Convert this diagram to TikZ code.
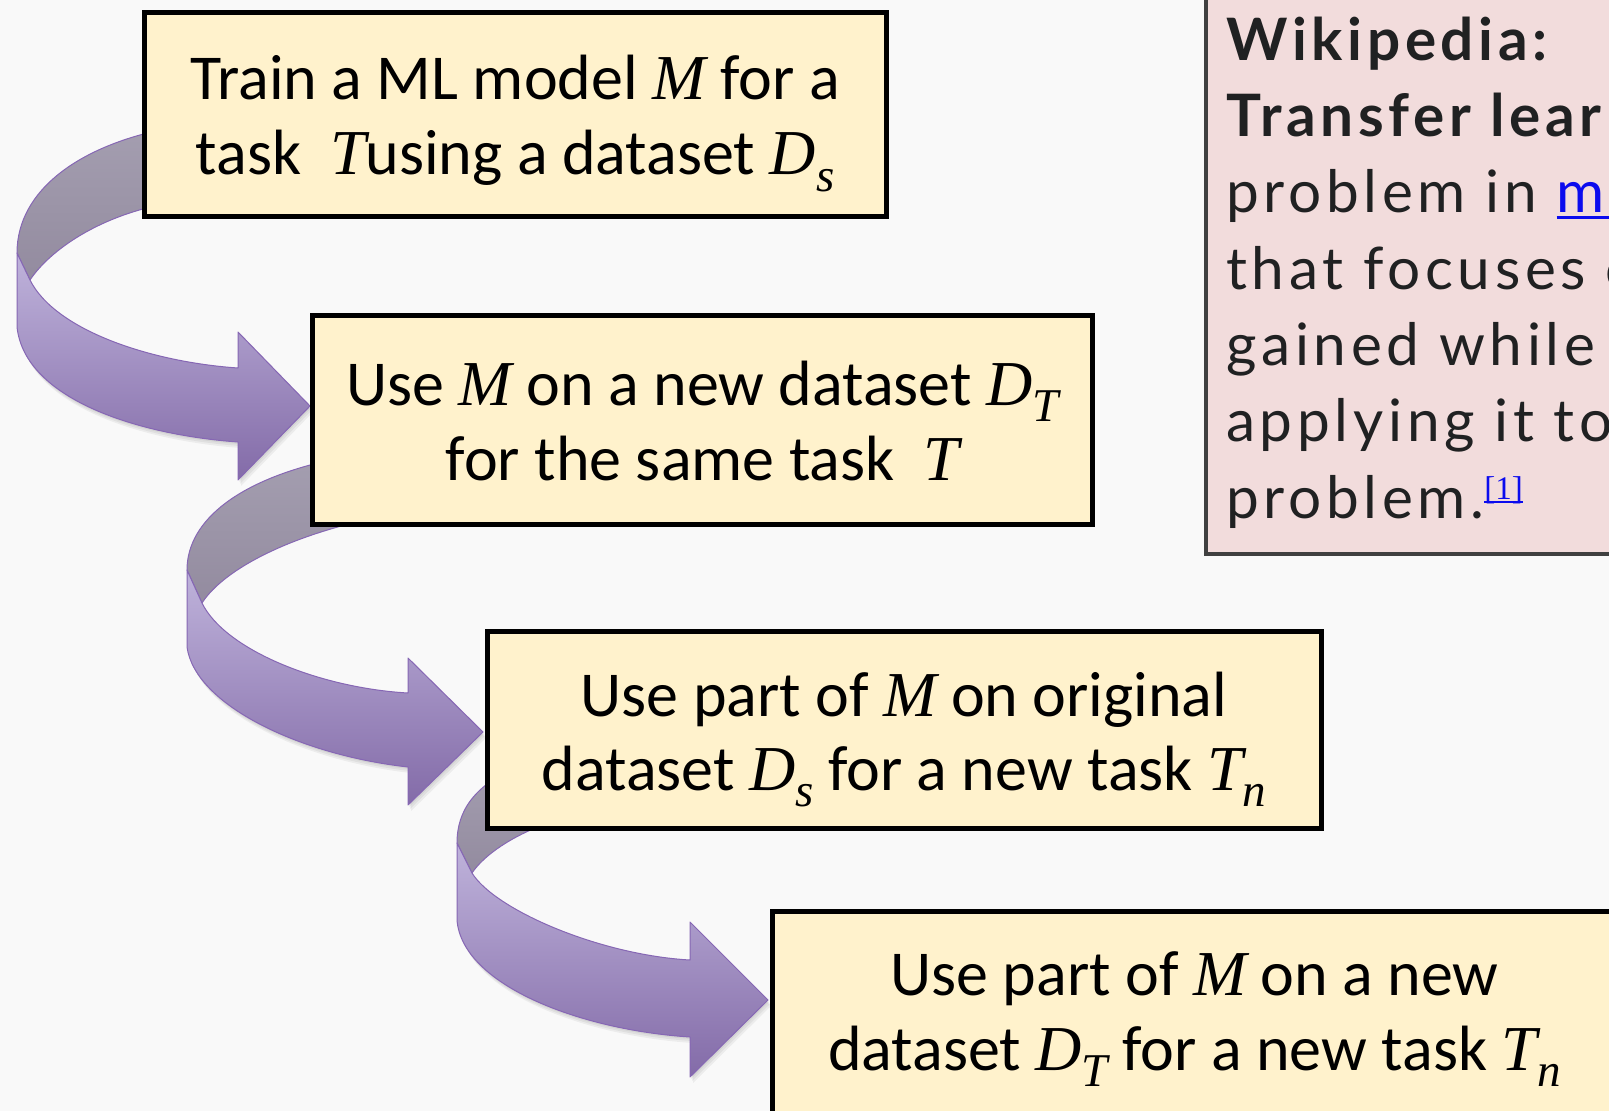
\documentclass[tikz,border=0pt]{standalone}
\usepackage{fontspec}
\newfontfamily\calfont{Carlito}
\newfontfamily\wikifont[LetterSpace=8]{Lato}
\newfontfamily\citefont{Liberation Serif}
\definecolor{pagebg}{HTML}{F9F9F9}
\definecolor{boxfill}{HTML}{FFF2CC}
\definecolor{wikifill}{HTML}{F2DCDC}
\definecolor{wikiedge}{HTML}{404040}
\definecolor{wikiink}{HTML}{202122}
\definecolor{linkblue}{HTML}{0B0BEE}
\definecolor{backtop}{HTML}{A49EB0}
\definecolor{backbot}{HTML}{938B9F}
\definecolor{fronttop}{HTML}{BFB3DB}
\definecolor{frontbot}{HTML}{836BA8}
\definecolor{ribbonedge}{HTML}{8667B4}

% underline drawn as a rule, for the link texts
\newcommand\linkline[1]{\setbox0\hbox{#1}\rlap{\rule[-0.11em]{\wd0}{0.045em}}\box0}
% italic variable names with lowered indices
\newcommand\mvar[1]{{\citefont\itshape #1}}
\newcommand\msub[1]{\raisebox{-0.26em}{\citefont\itshape\fontsize{47}{47}\selectfont #1}}

% ribbon outlines: back face (seen from behind) and front face with head
\def\backA{(170,128) .. controls (80,145) and (17,190) .. (17,253) -- (30,280) .. controls (50,250) and (100,215) .. (170,203) -- cycle}
\def\frontA{(17,253) -- (17,327) .. controls (25,400) and (140,435) .. (238,442) -- (238,480) -- (310,406) -- (238,332) -- (238,368) .. controls (150,362) and (55,330) .. (30,280) -- cycle}
\def\backB{(340,458) .. controls (240,478) and (187,520) .. (187,570) -- (202,603) .. controls (220,575) and (270,545) .. (345,525) -- cycle}
\def\frontB{(187,570) -- (187,647) .. controls (195,705) and (300,755) .. (408,767) -- (408,805) -- (483,732) -- (408,658) -- (408,693) .. controls (320,688) and (225,650) .. (202,603) -- cycle}
\def\backC{(520,765) .. controls (475,785) and (457,810) .. (457,843) -- (472,873) .. controls (482,858) and (505,840) .. (540,826) -- cycle}
\def\frontC{(457,843) -- (457,920) .. controls (462,985) and (580,1030) .. (690,1037) -- (690,1077) -- (768,1000) -- (690,922) -- (690,960) .. controls (600,955) and (495,910) .. (472,873) -- cycle}

\begin{document}
\begin{tikzpicture}[x=1pt,y=-1pt,
  stepbox/.style={draw=black, line width=5pt, fill=boxfill, inner sep=0pt},
  steptext/.style={font=\calfont\fontsize{64}{75}\selectfont, text=black, inner sep=0pt, anchor=base},
  backface/.style={top color=backtop, bottom color=backbot, draw=ribbonedge, line width=1pt, line join=round},
  frontface/.style={top color=fronttop, bottom color=frontbot, draw=ribbonedge, line width=1pt, line join=round},
  softshade/.style={fill=black, opacity=0.05},
  wikibox/.style={draw=wikiedge, line width=4.3pt, fill=wikifill, inner sep=0pt, anchor=north west},
  wikitext/.style={font=\wikifont\fontsize{58.5}{76}\selectfont, text=wikiink, inner sep=0pt, anchor=base west}]
\useasboundingbox (0,0) rectangle (1609,1111);
\clip (0,0) rectangle (1609,1111);
\fill[pagebg] (0,0) rectangle (1609,1111);

% curved ribbon arrows, each with a soft shadow under its front face
\foreach \s in {1,2,3} {
  \fill[softshade, shift={(\s,2*\s)}] \frontA;
  \fill[softshade, shift={(\s,2*\s)}] \frontB;
  \fill[softshade, shift={(\s,2*\s)}] \frontC;
}
\path[backface] \backA;
\path[frontface] \frontA;
\path[backface] \backB;
\path[frontface] \frontB;
\path[backface] \backC;
\path[frontface] \frontC;

% step boxes
\node[stepbox, minimum width=742pt, minimum height=204pt] (b1) at (515,114) {};
\node[stepbox, minimum width=780pt, minimum height=209pt] (b2) at (702.5,420) {};
\node[stepbox, minimum width=834pt, minimum height=197pt] (b3) at (904,729.5) {};
\node[stepbox, minimum width=849pt, minimum height=260pt, anchor=north west] (b4) at (770,909) {};

\node[steptext] (b1a) at (515,99.5) {Train a ML model \mvar{M} for a};
\node[steptext] (b1b) at (515,174.5) {task~ \mvar{T}using a dataset \mvar{D}\msub{s}};
\node[steptext] (b2a) at (702.5,405) {Use \mvar{M} on a new dataset \mvar{D}\msub{T}};
\node[steptext] (b2b) at (702.5,480) {for the same task~ \mvar{T}};
\node[steptext] (b3a) at (904,716) {Use part of \mvar{M} on original};
\node[steptext] (b3b) at (904,790) {dataset \mvar{D}\msub{s} for a new task \mvar{T}\msub{n}};
\node[steptext] (b4a) at (1194.5,995) {Use part of \mvar{M} on a new};
\node[steptext] (b4b) at (1194.5,1070) {dataset \mvar{D}\msub{T} for a new task \mvar{T}\msub{n}};

% encyclopedia excerpt
\node[wikibox, minimum width=500pt, minimum height=566pt] (wk) at (1204,-14) {};
\node[wikitext] (w1) at (1226,60) {\bfseries Wikipedia:};
\node[wikitext] (w2) at (1226,136) {\bfseries Transfer learning};
\node[wikitext] (w3) at (1226,212.5) {problem in \textcolor{linkblue}{\linkline{machine}}};
\node[wikitext] (w4) at (1226,289) {that focuses on};
\node[wikitext] (w5) at (1226,365) {gained while};
\node[wikitext] (w6) at (1226,441) {applying it to};
\node[wikitext] (w7) at (1226,518) {problem.\raisebox{19pt}{\citefont\fontsize{33}{33}\selectfont\color{linkblue}\linkline{[1]}}};
\end{tikzpicture}
\end{document}
